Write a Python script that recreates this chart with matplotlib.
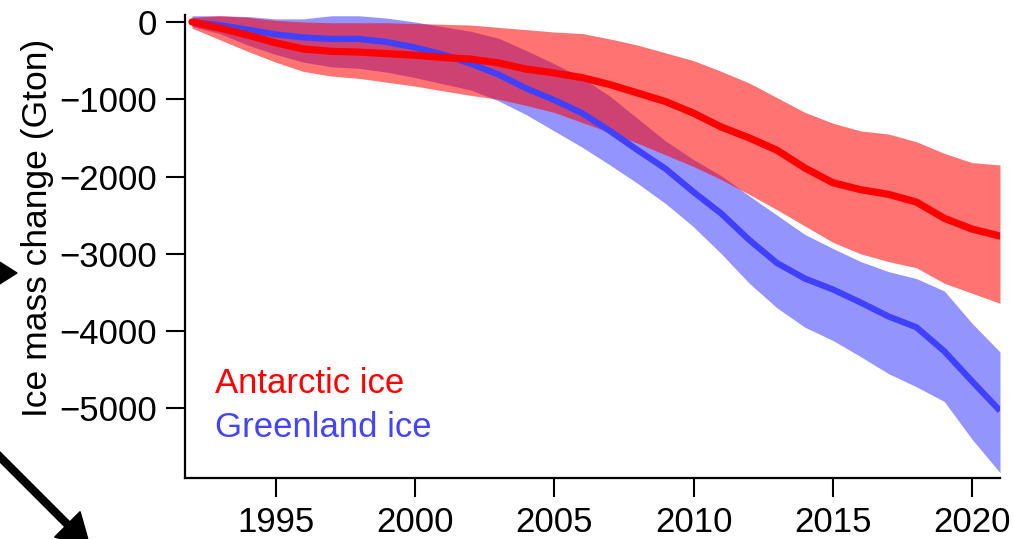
import matplotlib
matplotlib.use("Agg")
import matplotlib.pyplot as plt
from matplotlib.patches import FancyArrow
from matplotlib.transforms import IdentityTransform

years = list(range(1992, 2022))

antarctic = [0, -80, -170, -270, -350, -380, -390, -410, -430, -460,
             -480, -530, -610, -660, -720, -810, -920, -1030, -1180, -1360,
             -1500, -1660, -1890, -2080, -2170, -2230, -2330, -2540, -2680, -2770]
antarctic_upper = [60, 80, 60, 20, 0, -10, -10, -10, -20, -30,
                   -40, -70, -100, -130, -150, -220, -300, -400, -500, -640,
                   -790, -980, -1170, -1310, -1410, -1450, -1550, -1700, -1820, -1850]
antarctic_lower = [-80, -230, -380, -520, -640, -700, -730, -780, -830, -890,
                   -950, -1000, -1080, -1170, -1300, -1430, -1570, -1720, -1870, -2040,
                   -2230, -2430, -2640, -2850, -3000, -3100, -3180, -3380, -3510, -3640]

greenland = [0, -40, -100, -160, -200, -220, -220, -260, -330, -420,
             -540, -680, -860, -1010, -1180, -1410, -1660, -1900, -2200, -2480,
             -2820, -3120, -3320, -3460, -3630, -3810, -3950, -4260, -4650, -5030]
greenland_upper = [80, 80, 70, 40, 40, 80, 80, 50, 0, -60,
                   -120, -210, -370, -540, -720, -960, -1250, -1540, -1780, -1990,
                   -2250, -2500, -2750, -2930, -3100, -3230, -3320, -3480, -3900, -4270]
greenland_lower = [-60, -150, -300, -420, -520, -580, -600, -650, -720, -800,
                   -880, -1020, -1200, -1410, -1620, -1850, -2090, -2350, -2650, -3000,
                   -3380, -3700, -3950, -4120, -4330, -4550, -4720, -4910, -5400, -5830]

xticks = [1995, 2000, 2005, 2010, 2015, 2020]
yticks = [0, -1000, -2000, -3000, -4000, -5000]

plt.rcParams['font.family'] = ['Liberation Sans', 'DejaVu Sans']

W, H = 1013, 539
fig = plt.figure(figsize=(W / 100, H / 100), dpi=100)
ax = fig.add_axes([185 / W, 1 - 478 / H, 815 / W, 463 / H])

ax.fill_between(years, greenland_lower, greenland_upper, color=(0, 0, 1), alpha=0.42, lw=0)
ax.plot(years, greenland, color='#4040ff', lw=4.5, solid_capstyle='butt')
ax.fill_between(years, antarctic_lower, antarctic_upper, color=(1, 0, 0), alpha=0.55, lw=0)
ax.plot(years, antarctic, color='#ff0000', lw=5.2, solid_capstyle='round')

ax.set_xlim(1991.75, 2021)
ax.set_ylim(-5900, 90)
ax.set_xticks(xticks)
ax.set_yticks(yticks)
ax.tick_params(axis='both', labelsize=25, length=14, width=1.5, direction='out', pad=6)
for s in ['top', 'right']:
    ax.spines[s].set_visible(False)
for s in ['left', 'bottom']:
    ax.spines[s].set_linewidth(1.6)

fig.text(38 / W, 1 - 228 / H, 'Ice mass change (Gton)', rotation=90,
         ha='center', va='center', fontsize=25.5)

ax.text(0.037, 0.1836, 'Antarctic ice', color='#ff0000', fontsize=25,
        transform=ax.transAxes, va='baseline', ha='left')
ax.text(0.037, 0.0886, 'Greenland ice', color='#4444ff', fontsize=25,
        transform=ax.transAxes, va='baseline', ha='left')

# partial arrows from the surrounding figure (pixel coordinates)
a1 = FancyArrow(-60, H - 273, 77, 0, width=6, head_width=38, head_length=30,
                length_includes_head=True, color='black', transform=IdentityTransform())
fig.add_artist(a1)
a2 = FancyArrow(-20, H - 437, 110, -110, width=7, head_width=36, head_length=32,
                length_includes_head=True, color='black', transform=IdentityTransform())
fig.add_artist(a2)

fig.savefig('out.png', dpi=100)
